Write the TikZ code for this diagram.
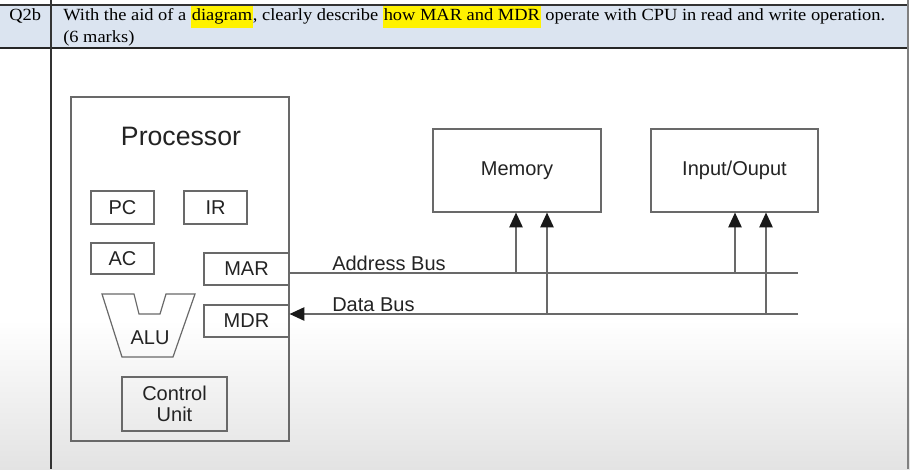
\documentclass[tikz,border=0pt]{standalone}
\usepackage{fontspec}
\setmainfont{Liberation Serif}
\newfontfamily\hdrfont[FakeStretch=1.08]{Liberation Serif}
\newfontfamily\arial{Liberation Sans}
\usepackage{tikz}
\usetikzlibrary{arrows.meta}

\definecolor{hdrblue}{RGB}{219,228,240}
\definecolor{linegray}{RGB}{105,105,105}
\definecolor{textgray}{RGB}{35,35,35}
\newcommand{\hilite}[1]{{\setlength{\fboxsep}{0.6pt}\colorbox{yellow}{\strut #1}}}

\begin{document}
\begin{tikzpicture}[x=0.75pt,y=-0.75pt,>={Triangle[length=11pt,width=10pt,color=black!90]},
                    box/.style={draw=linegray,line width=0.9pt,text=textgray,inner sep=0pt,
                                font=\arial\fontsize{15}{18}\selectfont,align=center},
                    bus/.style={draw=linegray,line width=0.9pt},
                    lbl/.style={text=textgray,inner sep=0pt,font=\arial\fontsize{15}{18}\selectfont},
                    hdr/.style={anchor=base west,inner sep=0pt,font=\hdrfont\fontsize{12.8}{15}\selectfont}]
  \useasboundingbox (0,0) rectangle (910,469);

  % page and table
  \fill[white] (0,0) rectangle (910,469);
  \shade[top color=white,bottom color=gray!22] (0,320) rectangle (910,469);
  \fill[hdrblue] (0,5) rectangle (908,48);
  \draw[black!80,line width=0.9pt] (0,5) -- (908,5);
  \draw[black!85,line width=1.5pt] (0,48) -- (908,48);
  \draw[black!80,line width=0.9pt] (51,0) -- (51,469);
  \draw[gray,line width=0.9pt] (908,0) -- (908,469);

  \node[hdr] (qno)   at (9,20.7)  {Q2b};
  \node[hdr] (qtext) at (63,20.7) {With the aid of a \hilite{diagram}, clearly describe \hilite{how MAR and MDR} operate with CPU in read and write operation.};
  \node[hdr] (marks) at (63,42.7) {(6 marks)};

  % processor
  \node[box,minimum width=163.5pt,minimum height=258pt] (proc) at (180,269) {};
  \node[lbl,font=\arial\fontsize{20}{24}\selectfont] (proclbl) at (181,136) {Processor};

  \node[box,minimum width=47.25pt,minimum height=24.75pt] (pc) at (122.5,207.5) {PC};
  \node[box,minimum width=47.25pt,minimum height=24.75pt] (ir) at (215.5,207.5) {IR};
  \node[box,minimum width=47.25pt,minimum height=23.25pt] (ac) at (122.5,258.5) {AC};
  \node[box,minimum width=63.75pt,minimum height=24pt] (mar) at (246.5,269) {MAR};
  \node[box,minimum width=63.75pt,minimum height=24pt] (mdr) at (246.5,321) {MDR};
  \node[box,minimum width=78.75pt,minimum height=40.5pt] (cu) at (174.5,404) {Control\\[-2pt]Unit};

  \draw[bus] (102,294) -- (134,294) -- (139,314) -- (160,314) -- (166,294) -- (195,294)
             -- (173,357) -- (122,357) -- cycle;
  \node[lbl] (alu) at (150,338) {ALU};

  % memory and i/o
  \node[box,minimum width=126pt,minimum height=62.25pt] (mem) at (517,170.5) {Memory};
  \node[box,minimum width=125.25pt,minimum height=62.25pt] (io) at (734.5,170.5) {Input/Ouput};

  % buses
  \coordinate (abend) at (798,273);
  \coordinate (dbend) at (798,314);
  \draw[bus] (mar.east |- abend) -- (abend);
  \draw[bus,->] (dbend) -- (dbend -| mdr.east);
  \node[lbl,anchor=base west] (ablbl) at (332,270) {Address Bus};
  \node[lbl,anchor=base west] (dblbl) at (332,311) {Data Bus};

  \foreach \x/\b/\t in {516/abend/mem,547/dbend/mem,735/abend/io,766/dbend/io}
    \draw[bus,->] (\x,0 |- \b) -- (\x,0 |- \t.south);
\end{tikzpicture}
\end{document}
